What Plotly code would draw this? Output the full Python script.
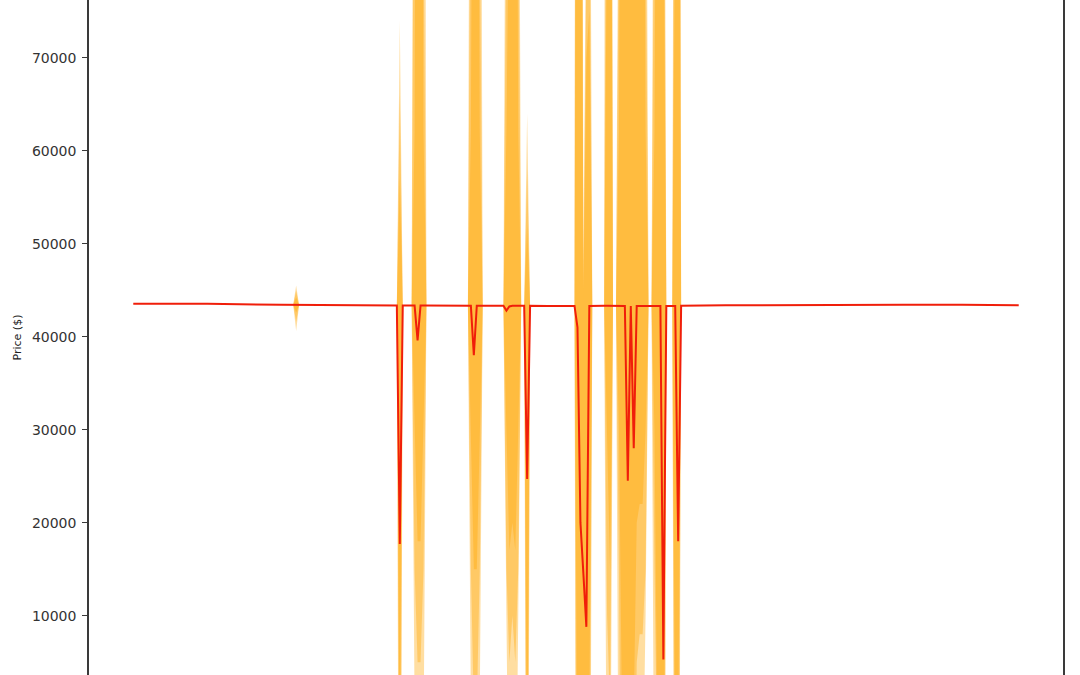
import plotly.graph_objects as go

# ---- data ----
step = [0, 25, 50, 54, 55, 56, 70, 85, 89, 90, 91, 94, 95, 96, 97, 98, 99,
        113, 114, 115, 116, 117, 118, 124, 125, 126, 127, 128, 129, 130, 131,
        132, 133, 134, 140, 149, 150, 151, 152, 153, 154, 155, 159, 160, 161,
        162, 163, 164, 165, 166, 167, 168, 169, 170, 171, 172, 173, 174, 175,
        176, 177, 178, 179, 180, 182, 183, 184, 185, 200, 230, 260, 280, 299]
price = [43550, 43540, 43430, 43420, 43410, 43410, 43420, 43360, 43350, 17700, 43350,
         43340, 43340, 39600, 43340, 43340, 43340,
         43330, 43330, 38000, 43330, 43330, 43330, 43320, 43320, 42800, 43250, 43320,
         43320, 43320, 43320,
         43320, 24700, 43320, 43310, 43300, 41000, 20000, 14500, 8800, 43300, 43320,
         43320, 43320, 43320,
         43320, 43310, 43310, 43310, 43310, 24500, 43300, 28000, 43300, 43300, 43300,
         43300, 43300, 43300,
         43300, 43300, 43300, 5300, 43310, 43310, 43310, 18000, 43320, 43370, 43420,
         43440, 43420, 43380]

# forecast interval bounds at the steps where they open up (elsewhere = price)
spike_step = [55, 90, 95, 96, 97, 98, 114, 115, 116, 117, 126, 127, 128, 129, 130,
              133, 150, 151, 152, 153, 154, 160, 161, 164, 165, 166, 167, 168, 169,
              170, 171, 172, 173, 176, 177, 178, 179, 183, 184]
upper_95 = [45500, 74000, 200000, 400000, 400000, 180000, 150000, 300000, 300000, 150000,
            120000, 300000, 250000, 300000, 120000, 64000, 400000, 400000, 48000, 90000,
            120000, 300000, 300000, 150000, 400000, 300000, 200000, 300000, 400000,
            250000, 400000, 300000, 120000, 100000, 300000, 300000, 150000, 300000, 300000]
lower_95 = [40600, -60000, 0, -30000, -30000, -5000, 0, -30000, -30000, 0,
            10000, -20000, -10000, -20000, 10000, -60000, -100000, -100000, -50000, -100000,
            -50000, -20000, -20000, -20000, -60000, -60000, -50000, -60000, -60000,
            -20000, -10000, -10000, 10000, -20000, -60000, -60000, -100000, -60000, -60000]
upper_80 = [44900, 66000, 85000, 250000, 250000, 85000, 85000, 200000, 200000, 85000,
            85000, 200000, 180000, 200000, 85000, 58000, 250000, 250000, 46000, 80000,
            90000, 120000, 200000, 85000, 250000, 200000, 150000, 200000, 250000,
            170000, 250000, 200000, 85000, 85000, 200000, 200000, 110000, 200000, 200000]
lower_80 = [41600, -30000, 15000, 5000, 5000, 15000, 15000, 0, 0, 15000,
            15000, 5000, 10000, 5000, 15000, -30000, -50000, -50000, -20000, -50000,
            -20000, 10000, 0, 15000, -30000, -30000, -20000, -30000, -30000,
            5000, 8000, 8000, 15000, 15000, -30000, -30000, -60000, -30000, -30000]
upper_50 = [44200, 57000, 62000, 160000, 160000, 62000, 62000, 140000, 140000, 62000,
            62000, 150000, 130000, 150000, 62000, 52000, 150000, 150000, 45000, 70000,
            75000, 70000, 130000, 62000, 150000, 130000, 100000, 130000, 150000,
            120000, 150000, 130000, 62000, 62000, 130000, 130000, 90000, 130000, 130000]
lower_50 = [42600, -8000, 30000, 18000, 18000, 30000, 30000, 15000, 15000, 30000,
            30000, 17000, 20000, 17000, 30000, -10000, -10000, -10000, 0, -20000,
            0, 30000, 15000, 30000, 0, 0, 0, 0, 0,
            20000, 22000, 22000, 30000, 30000, -5000, -5000, -20000, -5000, -5000]

y_ticks = [10000, 20000, 30000, 40000, 50000, 60000, 70000]

# ---- build ----
pos = {s: i for i, s in enumerate(spike_step)}


def full(vals):
    return [vals[pos[s]] if s in pos else p for s, p in zip(step, price)]


fig = go.Figure()
for lo, hi in [(lower_95, upper_95), (lower_80, upper_80), (lower_50, upper_50)]:
    fig.add_trace(go.Scatter(x=step, y=full(lo), mode="lines", line=dict(width=0),
                             showlegend=False, hoverinfo="skip"))
    fig.add_trace(go.Scatter(x=step, y=full(hi), mode="lines", line=dict(width=0),
                             fill="tonexty", fillcolor="rgba(255,165,0,0.37)",
                             showlegend=False, hoverinfo="skip"))

fig.add_trace(go.Scatter(x=step, y=price, mode="lines",
                         line=dict(color="rgb(240,30,10)", width=2), showlegend=False))

n = step[-1]
fig.update_layout(
    width=1080, height=675,
    margin=dict(l=89, r=17, t=0, b=0),
    paper_bgcolor="white", plot_bgcolor="white",
    showlegend=False,
    xaxis=dict(range=[-0.05 * n, 1.05 * n], showgrid=False, zeroline=False,
               showticklabels=False, ticks="", showline=False),
    yaxis=dict(range=[3620, 76200], tickvals=y_ticks, ticktext=[str(v) for v in y_ticks],
               showgrid=False, zeroline=False, showline=True, linecolor="#3a3a3a",
               linewidth=1.5, mirror=True, ticks="outside", ticklen=5, tickcolor="#3a3a3a",
               tickwidth=1, ticklabelstandoff=3,
               tickfont=dict(family="DejaVu Sans", size=14, color="#333"),
               title=dict(text="Price ($)", font=dict(family="DejaVu Sans", size=11, color="#222"),
                          standoff=8)),
)

fig.write_html("out.html", config={"displayModeBar": False},
               post_script="document.body.style.margin='0';document.body.style.overflow='hidden';")
